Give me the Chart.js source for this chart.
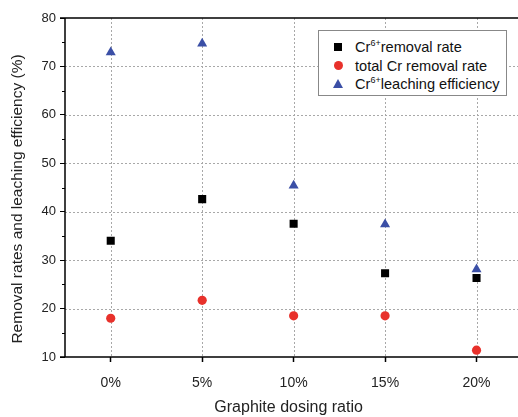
<!DOCTYPE html>
<html>
<head>
<meta charset="utf-8">
<script src="https://cdn.jsdelivr.net/npm/chart.js@4"></script>
<style>
  html, body { margin: 0; padding: 0; background: #fff; }
  #wrap { position: relative; width: 518px; height: 417px; }
  #legend {
    position: absolute; left: 318px; top: 30px; width: 187px; height: 64px;
    border: 1px solid #888; background: #fff;
    font-family: "Liberation Sans", Arial, sans-serif; font-size: 14.6px; color: #111;
  }
  .row { position: absolute; left: 0; height: 18px; line-height: 18px; white-space: nowrap; }
  .row .txt { position: absolute; left: 36px; top: 0; }
  .row sup { font-size: 9px; vertical-align: 0; position: relative; top: -6px; }
  .mk { position: absolute; }
  .sq { left: 15px; top: 5px; width: 8px; height: 8px; background: #000; }
  .ci { left: 15px; top: 4px; width: 9px; height: 9px; border-radius: 50%; background: #e8312b; }
  .tr { left: 14px; top: 4px; width: 0; height: 0; border-left: 5px solid transparent; border-right: 5px solid transparent; border-bottom: 9px solid #3b4fa6; }
</style>
</head>
<body>
<div id="wrap">
  <canvas id="chart" width="518" height="417"></canvas>
  <div id="legend">
    <div class="row" style="top:7px"><div class="mk sq"></div><span class="txt">Cr<sup>6+</sup>removal rate</span></div>
    <div class="row" style="top:26px"><div class="mk ci"></div><span class="txt">total Cr removal rate</span></div>
    <div class="row" style="top:44px"><div class="mk tr"></div><span class="txt">Cr<sup>6+</sup>leaching efficiency</span></div>
  </div>
</div>
<script>
// data
const categories = ['0%', '5%', '10%', '15%', '20%'];
const cr6Removal = [34.0, 42.6, 37.5, 27.3, 26.3];
const totalCrRemoval = [18.0, 21.7, 18.5, 18.5, 11.4];
const cr6Leaching = [72.9, 74.7, 45.4, 37.4, 28.1];
const yTicks = [10, 20, 30, 40, 50, 60, 70, 80];
const yTitle = 'Removal rates and leaching efficiency (%)';

const FONT = '"Liberation Sans", Arial, sans-serif';

function toPoints(values) {
    return values.map((v, i) => ({ x: i, y: v }));
}

// dotted grid lines under the points
const gridPlugin = {
    id: 'dottedGrid',
    beforeDatasetsDraw(chart) {
        const ctx = chart.ctx;
        const area = chart.chartArea;
        const xs = chart.scales.x;
        const ys = chart.scales.y;
        ctx.save();
        ctx.strokeStyle = '#a8a8a8';
        ctx.lineWidth = 1;
        ctx.setLineDash([2, 2]);
        xs.ticks.forEach(t => {
            const px = Math.round(xs.getPixelForValue(t.value)) + 0.5;
            ctx.beginPath();
            ctx.moveTo(px, area.top);
            ctx.lineTo(px, area.bottom);
            ctx.stroke();
        });
        ys.ticks.forEach(t => {
            if (t.value === ys.min || t.value === ys.max) return;
            const py = Math.round(ys.getPixelForValue(t.value)) + 0.5;
            ctx.beginPath();
            ctx.moveTo(area.left, py);
            ctx.lineTo(chart.width, py);
            ctx.stroke();
        });
        ctx.restore();
    }
};

// axis lines, top frame line, minor ticks and the y title
const framePlugin = {
    id: 'frame',
    afterDraw(chart) {
        const ctx = chart.ctx;
        const area = chart.chartArea;
        const y = chart.scales.y;
        ctx.save();
        ctx.strokeStyle = '#000';
        ctx.lineWidth = 1.5;
        ctx.beginPath();
        ctx.moveTo(area.left - 5, area.top);
        ctx.lineTo(chart.width, area.top);
        ctx.moveTo(area.left, area.top);
        ctx.lineTo(area.left, area.bottom);
        ctx.moveTo(area.left - 5, area.bottom);
        ctx.lineTo(chart.width, area.bottom);
        ctx.stroke();
        ctx.lineWidth = 1;
        for (let v = 15; v < 80; v += 10) {
            const py = Math.round(y.getPixelForValue(v)) + 0.5;
            ctx.beginPath();
            ctx.moveTo(area.left - 3, py);
            ctx.lineTo(area.left, py);
            ctx.stroke();
        }
        // y title sits a bit below the axis centre in the original
        ctx.translate(18, 199);
        ctx.rotate(-Math.PI / 2);
        ctx.fillStyle = '#222';
        ctx.font = '15.5px ' + FONT;
        ctx.textAlign = 'center';
        ctx.textBaseline = 'middle';
        ctx.fillText(yTitle, 0, 0);
        ctx.restore();
    }
};

const ctx = document.getElementById('chart').getContext('2d');
new Chart(ctx, {
    type: 'scatter',
    data: {
        datasets: [
            {
                label: 'Cr6+ removal rate',
                data: toPoints(cr6Removal),
                pointStyle: 'rect',
                pointRadius: 5.7,
                backgroundColor: '#000',
                borderColor: '#000',
                borderWidth: 0
            },
            {
                label: 'total Cr removal rate',
                data: toPoints(totalCrRemoval),
                pointStyle: 'circle',
                pointRadius: 4.6,
                backgroundColor: '#e8312b',
                borderColor: '#e8312b',
                borderWidth: 0
            },
            {
                label: 'Cr6+ leaching efficiency',
                data: toPoints(cr6Leaching),
                pointStyle: 'triangle',
                pointRadius: 5.8,
                backgroundColor: '#3b4fa6',
                borderColor: '#3b4fa6',
                borderWidth: 0
            }
        ]
    },
    options: {
        responsive: false,
        animation: false,
        layout: { padding: { top: 18, right: 0, left: 0, bottom: 0 } },
        plugins: { legend: { display: false }, tooltip: { enabled: false } },
        scales: {
            x: {
                type: 'linear',
                min: -0.5,
                max: 4.39,
                afterBuildTicks: (scale) => { scale.ticks = categories.map((c, i) => ({ value: i })); },
                afterFit: (scale) => { scale.height = 60; },
                ticks: {
                    callback: (v) => categories[v],
                    color: '#222',
                    font: { family: FONT, size: 14 },
                    padding: 13,
                    maxRotation: 0
                },
                grid: {
                    drawOnChartArea: false,
                    tickColor: '#000',
                    tickLength: 5,
                    tickWidth: 1.5
                },
                border: { display: false },
                title: {
                    display: true,
                    text: 'Graphite dosing ratio',
                    color: '#222',
                    font: { family: FONT, size: 16 },
                    padding: { top: 2, bottom: 0 }
                }
            },
            y: {
                min: 10,
                max: 80,
                afterBuildTicks: (scale) => { scale.ticks = yTicks.map(v => ({ value: v })); },
                afterFit: (scale) => { scale.width = 65; },
                ticks: {
                    color: '#222',
                    font: { family: FONT, size: 13 },
                    padding: 4
                },
                grid: {
                    drawOnChartArea: false,
                    tickColor: '#000',
                    tickLength: 5,
                    tickWidth: 1
                },
                border: { display: false },
                title: { display: false }
            }
        }
    },
    plugins: [gridPlugin, framePlugin]
});
</script>
</body>
</html>
